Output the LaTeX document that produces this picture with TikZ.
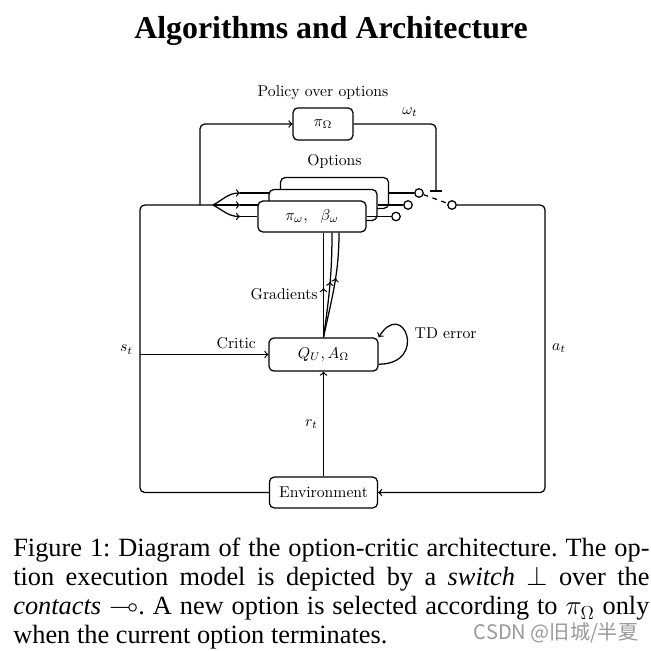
\documentclass[tikz,border=0pt]{standalone}
\usepackage{amsmath}
\usepackage{amssymb}
\usepackage{fontspec}
\newfontfamily\capfont{Liberation Serif}
\newfontfamily\wmfont{Noto Sans CJK SC}
\usetikzlibrary{positioning, calc, backgrounds, decorations.markings}

\begin{document}
\begin{tikzpicture}[x=0.0224cm, y=-0.0224cm,
        box/.style={draw, thick, rounded corners=3pt, fill=white, minimum width=2.42cm, minimum height=0.69cm},
        policy/.style={box, minimum width=1.34cm, minimum height=0.72cm},
        critic/.style={box, minimum width=2.44cm, minimum height=0.74cm},
        contact/.style={draw, thick, circle, fill=white, inner sep=0pt, minimum size=0.19cm},
        wire/.style={thick, rounded corners=3pt},
        midarrow/.style={thick, postaction={decorate, decoration={markings, mark=at position #1 with {\arrow{>}}}}},
        midarrow/.default=0.5
    ]
    \useasboundingbox (0,0) rectangle (650,651);

    % Title
    \node[font=\capfont\bfseries\fontsize{20.3}{24}\selectfont] (title) at (331,31) {Algorithms and Architecture};

    % Policy over options
    \node[policy] (pio) at (323,124) {$\pi_\Omega$};
    \node[above=1pt of pio] (piolabel) {Policy over options};

    % Options (back to front)
    \node[box] (opt3) at (334.5,193) {};
    \node[box] (opt2) at (323,205) {};
    \node[box] (opt1) at (312,216.5) {$\pi_\omega,\ \ \beta_\omega$};
    \node[above=2pt of opt3] (optlabel) {Options};

    % Contacts and switch
    \node[contact] (c1) at (396,216.5) {};
    \node[contact] (c2) at (408,205) {};
    \node[contact] (c3) at (419,193) {};
    \node[contact] (cout) at (452,205) {};
    \coordinate (sw) at (436,191);
    \node (omega) at (410,112) {$\omega_t$};

    % Critic and environment
    \node[critic] (q) at (323.5,354.5) {$Q_U, A_\Omega$};
    \node[box] (env) at (323.5,492.5) {Environment};
    \node (td) at ($(q.north east)+(67,-4)$) {TD error};

    % Helper coordinates
    \coordinate (fork) at (213,205);
    \coordinate (br) at (200,205);
    \coordinate (al) at (140,354.5);
    \coordinate (ar) at (545,348);
    \coordinate (a1) at (240,216.5);
    \coordinate (a2) at (240,205);
    \coordinate (a3) at (240,193);

    % Inputs of the options
    \begin{scope}[on background layer]
        \foreach \k/\ang in {1/-28, 2/0, 3/28} {
            \draw[->, thick] (fork) to[out=\ang, in=180] (a\k);
            \draw[thick] (a\k) -- (opt\k.west);
        }
    \end{scope}
    \foreach \k in {1,2,3} {
        \draw[thick] (opt\k.east) -- (c\k);
    }

    % Switch
    \draw[wire] (pio.east) -- (sw |- pio.east) -- (sw);
    \draw[thick] ([xshift=-0.13cm]sw) -- ([xshift=0.13cm]sw);
    \draw[thick, dashed] (c3) -- (cout);

    % Loops
    \draw[wire, ->] (cout) -| (ar) |- (env);
    \node[right=1pt of ar] (atlabel) {$a_t$};
    \draw[wire] (env) -| (al) |- (fork);
    \node[left=1pt of al, yshift=3pt] (stlabel) {$s_t$};
    \draw[wire, ->] (br) |- (pio);
    \draw[->, thick] (al) -- (q) node[pos=0.75, above] {Critic};
    \draw[->, thick] (env) -- (q) node[midway, left] {$r_t$};
    \draw[->, thick] (q.-10) .. controls +(50,0) and +(25,-40) .. (q.north east);

    % Gradients
    \draw[midarrow=0.47] (q.north) -- (q.north |- opt1.south) node[pos=0.41, left] {Gradients};
    \draw[midarrow=0.53] (q.north) to[out=82, in=-90] ($(q.north |- opt1.south)+(8.5,0)$);
    \draw[midarrow=0.57] (q.north) to[out=78, in=-90] ($(q.north |- opt1.south)+(15.5,0)$);

    % Caption
    \node[anchor=north west, inner sep=0pt, text width=14.25cm, align=justify,
        font=\capfont\fontsize{16.8}{18.5}\selectfont\frenchspacing] (caption) at (13,538)
        {Figure 1: Diagram of the option-critic architecture. The op-\linebreak
        tion execution model is depicted by a \emph{switch} $\perp$ over the\linebreak
        \emph{contacts} $\multimap$. A new option is selected according to $\pi_\Omega$ only\linebreak
        when the current option terminates.};
    \node[font=\wmfont\fontsize{12.8}{13}\selectfont, text=black!40] (mark) at (556,633) {CSDN @旧城/半夏};

\end{tikzpicture}
\end{document}
